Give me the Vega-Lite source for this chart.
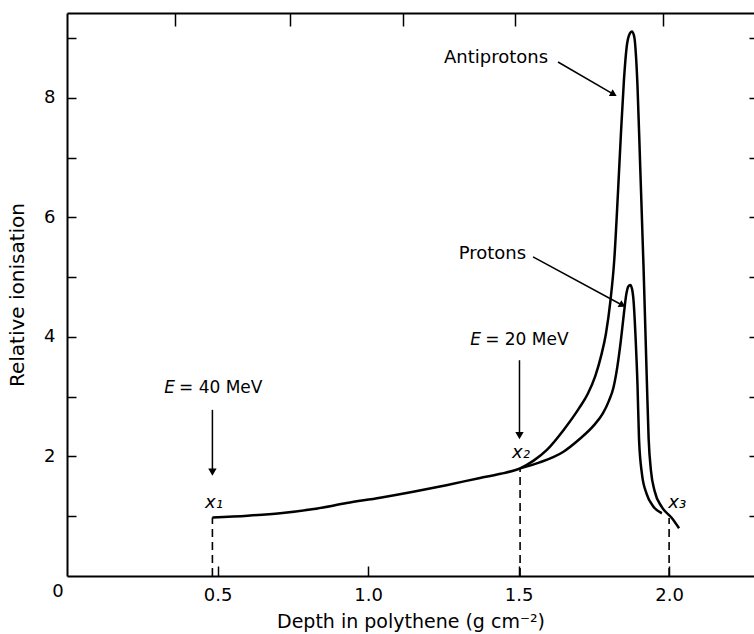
{
  "$schema": "https://vega.github.io/schema/vega-lite/v6.json",
  "width": 687,
  "height": 563,
  "autosize": {"type": "none"},
  "padding": {"left": 67, "top": 13, "right": 0, "bottom": 58},
  "background": "white",
  "config": {
    "view": {"stroke": null},
    "font": "DejaVu Sans",
    "axis": {"domainColor": "black", "domainWidth": 2, "tickColor": "black", "tickWidth": 1.5, "labelColor": "black", "titleColor": "black", "grid": false, "labelFont": "DejaVu Sans", "titleFont": "DejaVu Sans", "titleFontWeight": "normal"}
  },
  "datasets": {
    "curves": [
      {"s": "anti", "o": 1, "x": 0.483, "y": 0.98},
      {"s": "anti", "o": 2, "x": 0.6, "y": 1.01},
      {"s": "anti", "o": 3, "x": 0.708, "y": 1.05},
      {"s": "anti", "o": 4, "x": 0.82, "y": 1.12},
      {"s": "anti", "o": 5, "x": 0.929, "y": 1.22},
      {"s": "anti", "o": 6, "x": 1.04, "y": 1.31},
      {"s": "anti", "o": 7, "x": 1.15, "y": 1.41},
      {"s": "anti", "o": 8, "x": 1.26, "y": 1.52},
      {"s": "anti", "o": 9, "x": 1.372, "y": 1.64},
      {"s": "anti", "o": 10, "x": 1.44, "y": 1.71},
      {"s": "anti", "o": 11, "x": 1.505, "y": 1.8},
      {"s": "anti", "o": 12, "x": 1.55, "y": 1.93},
      {"s": "anti", "o": 13, "x": 1.594, "y": 2.11},
      {"s": "anti", "o": 14, "x": 1.649, "y": 2.44},
      {"s": "anti", "o": 15, "x": 1.7, "y": 2.8},
      {"s": "anti", "o": 16, "x": 1.73, "y": 3.05},
      {"s": "anti", "o": 17, "x": 1.755, "y": 3.35},
      {"s": "anti", "o": 18, "x": 1.775, "y": 3.7},
      {"s": "anti", "o": 19, "x": 1.79, "y": 4.05},
      {"s": "anti", "o": 20, "x": 1.805, "y": 4.6},
      {"s": "anti", "o": 21, "x": 1.818, "y": 5.3},
      {"s": "anti", "o": 22, "x": 1.83, "y": 6.4},
      {"s": "anti", "o": 23, "x": 1.84, "y": 7.4},
      {"s": "anti", "o": 24, "x": 1.85, "y": 8.3},
      {"s": "anti", "o": 25, "x": 1.859, "y": 8.85},
      {"s": "anti", "o": 26, "x": 1.868, "y": 9.06},
      {"s": "anti", "o": 27, "x": 1.877, "y": 9.11},
      {"s": "anti", "o": 28, "x": 1.885, "y": 9.0},
      {"s": "anti", "o": 29, "x": 1.89, "y": 8.7},
      {"s": "anti", "o": 30, "x": 1.895, "y": 8.2},
      {"s": "anti", "o": 31, "x": 1.904, "y": 6.85},
      {"s": "anti", "o": 32, "x": 1.915, "y": 5.18},
      {"s": "anti", "o": 33, "x": 1.926, "y": 3.28},
      {"s": "anti", "o": 34, "x": 1.932, "y": 2.3},
      {"s": "anti", "o": 35, "x": 1.94, "y": 1.75},
      {"s": "anti", "o": 36, "x": 1.952, "y": 1.42},
      {"s": "anti", "o": 37, "x": 1.975, "y": 1.16},
      {"s": "anti", "o": 38, "x": 2.009, "y": 0.97},
      {"s": "anti", "o": 39, "x": 2.033, "y": 0.8},
      {"s": "pro", "o": 1, "x": 1.505, "y": 1.8},
      {"s": "pro", "o": 2, "x": 1.57, "y": 1.9},
      {"s": "pro", "o": 3, "x": 1.649, "y": 2.08},
      {"s": "pro", "o": 4, "x": 1.7, "y": 2.28},
      {"s": "pro", "o": 5, "x": 1.75, "y": 2.52},
      {"s": "pro", "o": 6, "x": 1.78, "y": 2.72},
      {"s": "pro", "o": 7, "x": 1.8, "y": 2.93},
      {"s": "pro", "o": 8, "x": 1.815, "y": 3.15},
      {"s": "pro", "o": 9, "x": 1.828, "y": 3.5},
      {"s": "pro", "o": 10, "x": 1.84, "y": 3.95},
      {"s": "pro", "o": 11, "x": 1.85, "y": 4.4},
      {"s": "pro", "o": 12, "x": 1.858, "y": 4.72},
      {"s": "pro", "o": 13, "x": 1.865, "y": 4.85},
      {"s": "pro", "o": 14, "x": 1.871, "y": 4.87},
      {"s": "pro", "o": 15, "x": 1.877, "y": 4.8},
      {"s": "pro", "o": 16, "x": 1.882, "y": 4.6},
      {"s": "pro", "o": 17, "x": 1.889, "y": 3.95},
      {"s": "pro", "o": 18, "x": 1.895, "y": 3.2},
      {"s": "pro", "o": 19, "x": 1.9, "y": 2.3},
      {"s": "pro", "o": 20, "x": 1.91, "y": 1.7},
      {"s": "pro", "o": 21, "x": 1.925, "y": 1.38},
      {"s": "pro", "o": 22, "x": 1.948, "y": 1.16},
      {"s": "pro", "o": 23, "x": 1.976, "y": 1.05}
    ],
    "dashes": [
      {"x": 0.483, "y": 0, "y2": 0.98},
      {"x": 1.505, "y": 0, "y2": 1.8},
      {"x": 2.0, "y": 0, "y2": 0.97}
    ],
    "arrows": [
      {"x": 0.483, "y": 2.78, "x2": 0.483, "y2": 1.72},
      {"x": 1.503, "y": 3.61, "x2": 1.503, "y2": 2.33},
      {"x": 1.548, "y": 5.34, "x2": 1.845, "y2": 4.53},
      {"x": 1.631, "y": 8.6, "x2": 1.816, "y2": 8.06}
    ],
    "heads_down": [
      {"x": 0.483, "y": 1.74},
      {"x": 1.503, "y": 2.35}
    ],
    "heads_diag": [
      {"x": 1.845, "y": 4.53, "a": 28.5},
      {"x": 1.816, "y": 8.06, "a": 29}
    ],
    "labels": [
      {"x": 1.425, "y": 8.67, "t": "Antiprotons"},
      {"x": 1.413, "y": 5.39, "t": "Protons"}
    ],
    "eq": [
      {"x": 0.372, "y": 3.15, "t": "= 40 MeV"},
      {"x": 1.389, "y": 3.95, "t": "= 20 MeV"}
    ],
    "evar": [
      {"x": 0.359, "y": 3.15, "t": "E"},
      {"x": 1.375, "y": 3.95, "t": "E"}
    ],
    "xs": [
      {"x": 0.488, "y": 1.22, "t": "x₁"},
      {"x": 1.508, "y": 2.06, "t": "x₂"},
      {"x": 2.027, "y": 1.22, "t": "x₃"}
    ],
    "corner": [
      {"x": -0.03, "y": -0.27, "t": "0"}
    ]
  },
  "encoding": {
    "x": {"field": "x", "type": "quantitative", "scale": {"domain": [0, 2.282], "nice": false, "zero": false}, "axis": null},
    "y": {"field": "y", "type": "quantitative", "scale": {"domain": [0, 9.42], "nice": false, "zero": false}, "axis": null}
  },
  "layer": [
    {
      "data": {"name": "curves"},
      "mark": {"type": "line", "color": "black", "strokeWidth": 2.5, "interpolate": "monotone"},
      "encoding": {
        "x": {"field": "x", "type": "quantitative", "scale": {"domain": [0, 2.282], "nice": false, "zero": false},
          "axis": {"orient": "bottom", "values": [0.5, 1.0, 1.5, 2.0], "format": ".1f", "tickSize": -10, "labelPadding": 20, "labelFontSize": 18, "title": "Depth in polythene (g cm⁻²)", "titleFontSize": 19, "titlePadding": 8}},
        "y": {"field": "y", "type": "quantitative", "scale": {"domain": [0, 9.42], "nice": false, "zero": false},
          "axis": {"orient": "left", "values": [1, 2, 3, 4, 5, 6, 7, 8, 9], "labelExpr": "datum.value % 2 == 0 ? datum.label : ''", "tickSize": -9, "labelPadding": 21, "labelFontSize": 18, "title": "Relative ionisation", "titleFontSize": 20, "titlePadding": 16}},
        "detail": {"field": "s"},
        "order": {"field": "o", "type": "quantitative"}
      }
    },
    {
      "data": {"name": "corner"},
      "mark": {"type": "point", "opacity": 0},
      "encoding": {
        "x": {"field": "x", "type": "quantitative", "scale": {"domain": [0, 2.282], "nice": false, "zero": false},
          "axis": {"orient": "top", "values": [0.359, 0.741, 1.116, 1.488, 1.98], "labels": false, "tickSize": -13, "title": null}},
        "y": {"field": "y", "type": "quantitative", "scale": {"domain": [0, 9.42], "nice": false, "zero": false},
          "axis": {"orient": "right", "values": [1, 2, 3, 4, 5, 6, 7, 8, 9], "labels": false, "domain": false, "tickSize": -5, "title": null}}
      }
    },
    {
      "data": {"name": "dashes"},
      "mark": {"type": "rule", "color": "black", "strokeWidth": 1.6, "strokeDash": [8, 5]},
      "encoding": {"y2": {"field": "y2"}}
    },
    {
      "data": {"name": "arrows"},
      "mark": {"type": "rule", "color": "black", "strokeWidth": 1.5},
      "encoding": {"x2": {"field": "x2"}, "y2": {"field": "y2"}}
    },
    {
      "data": {"name": "heads_down"},
      "mark": {"type": "point", "shape": "triangle-down", "filled": true, "color": "black", "size": 70, "opacity": 1},
      "encoding": {}
    },
    {
      "data": {"name": "heads_diag"},
      "mark": {"type": "point", "shape": "triangle-right", "filled": true, "color": "black", "size": 60, "opacity": 1},
      "encoding": {"angle": {"field": "a", "type": "quantitative", "scale": null}}
    },
    {
      "data": {"name": "labels"},
      "mark": {"type": "text", "fontSize": 18, "color": "black", "align": "center", "baseline": "middle"},
      "encoding": {"text": {"field": "t"}}
    },
    {
      "data": {"name": "eq"},
      "mark": {"type": "text", "fontSize": 17, "color": "black", "align": "left", "baseline": "middle"},
      "encoding": {"text": {"field": "t"}}
    },
    {
      "data": {"name": "evar"},
      "mark": {"type": "text", "fontSize": 17, "fontStyle": "italic", "color": "black", "align": "right", "baseline": "middle"},
      "encoding": {"text": {"field": "t"}}
    },
    {
      "data": {"name": "xs"},
      "mark": {"type": "text", "fontSize": 18, "fontStyle": "italic", "color": "black", "align": "center", "baseline": "middle"},
      "encoding": {"text": {"field": "t"}}
    },
    {
      "data": {"name": "corner"},
      "mark": {"type": "text", "fontSize": 18, "color": "black", "align": "center", "baseline": "middle"},
      "encoding": {"text": {"field": "t"}}
    }
  ],
  "resolve": {"axis": {"x": "independent", "y": "independent"}}
}
